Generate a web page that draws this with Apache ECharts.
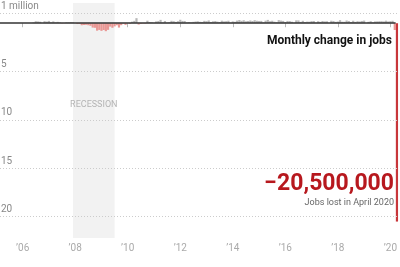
<!DOCTYPE html>
<html><head><meta charset="utf-8">
<script src="https://cdn.jsdelivr.net/npm/echarts@6/dist/echarts.min.js"></script>
<style>html,body{margin:0;padding:0;background:#fff}#c{width:400px;height:267px}</style>
</head><body><div id="c"></div>
<script>
// Monthly change in US payroll jobs, thousands (read/estimated from the chart)
const startYear = 2006, startMonth = 6; // first bar: June 2006
const jobs2006 = [77, 207, 184, 157, 2, 210, 171];
const jobs2007 = [238, 93, 190, 80, 143, 75, -34, -20, 88, 84, 114, 98];
const jobs2008 = [17, -84, -78, -210, -185, -165, -209, -266, -452, -473, -769, -695];
const jobs2009 = [-791, -703, -823, -686, -351, -470, -329, -212, -450, -202, -42, -171];
const jobs2010 = [-19, -66, 164, 243, 524, -137, -68, -36, -52, 262, 119, 87];
const jobs2011 = [43, 189, 225, 346, 77, 225, 69, 110, 248, 209, 141, 209];
const jobs2012 = [358, 237, 233, 78, 115, 76, 143, 177, 203, 146, 132, 244];
const jobs2013 = [211, 286, 130, 197, 226, 162, 122, 261, 190, 212, 258, 47];
const jobs2014 = [190, 151, 272, 329, 246, 304, 202, 230, 280, 227, 312, 255];
const jobs2015 = [234, 238, 86, 262, 344, 206, 254, 157, 100, 321, 272, 239];
const jobs2016 = [126, 237, 225, 153, 43, 297, 291, 135, 249, 124, 164, 155];
const jobs2017 = [216, 232, 50, 207, 139, 228, 188, 199, 16, 256, 223, 144];
const jobs2018 = [176, 316, 154, 149, 280, 231, 127, 253, 140, 208, 180, 233];
const jobs2019 = [269, 1, 147, 210, 85, 182, 194, 207, 208, 185, 261, 184];
const jobs2020 = [214, 251, -701, -20500];

const gridTicks = [1, -5, -10, -15, -20];
const gridTickLabels = ['1 million', '5', '10', '15', '20'];
const xTickYears = [2006, 2008, 2010, 2012, 2014, 2016, 2018, 2020];
const recession = [2007.917, 2009.5];
const titleText = 'Monthly change in jobs';
const bigNumber = '\u221220,500,000';
const bigNumberNote = 'Jobs lost in April 2020';

const allMonths = [].concat(jobs2006, jobs2007, jobs2008, jobs2009, jobs2010, jobs2011,
  jobs2012, jobs2013, jobs2014, jobs2015, jobs2016, jobs2017, jobs2018, jobs2019, jobs2020);
const barData = allMonths.map((v, i) => {
  const mIdx = (startMonth - 1) + i;
  const x = startYear + mIdx / 12;
  return [x, v / 1000];
});
const lastIdx = barData.length - 1;

const xMin = 2005.137, xMax = 2020.307;
const chart = echarts.init(document.getElementById('c'), null, {renderer: 'canvas'});
const FONT = 'Roboto, "Liberation Sans", sans-serif';

chart.setOption({
  animation: false,
  grid: {left: 0, right: 0, top: 0, bottom: 29},
  title: {
    text: titleText, right: 3, top: 30,
    textStyle: {fontFamily: FONT, fontWeight: 'bold', fontSize: 12, color: '#121212'}
  },
  xAxis: {
    type: 'value', min: xMin, max: xMax,
    axisLine: {show: false}, splitLine: {show: false},
    axisTick: {show: true, customValues: xTickYears, length: 4, lineStyle: {color: '#bbb'}, inside: false},
    axisLabel: {customValues: xTickYears, margin: 5, color: '#aaa', fontSize: 10, fontFamily: FONT,
      formatter: v => '\u2019' + String(Math.round(v)).slice(2)}
  },
  yAxis: {
    type: 'value', min: -22.2, max: 2.4, show: false, splitLine: {show: false}
  },
  graphic: [
    {type: 'text', right: 6, top: 173, style: {text: bigNumber, fill: '#b7181e',
      font: 'bold 23px ' + FONT, textAlign: 'right'}},
    {type: 'text', right: 6, top: 198, style: {text: bigNumberNote, fill: '#666',
      font: '9px ' + FONT, textAlign: 'right'}}
  ],
  series: [{
    type: 'bar',
    data: barData,
    barWidth: 2.2,
    silent: true,
    itemStyle: {
      color: p => p.dataIndex === lastIdx ? '#c8363a' : (p.value[1] < 0 ? '#e99895' : '#b8b8b8')
    },
    markArea: {
      silent: true,
      itemStyle: {color: '#f2f2f2'},
      label: {show: true, position: ['50%', 97], align: 'center', color: '#b4b4b4',
        fontSize: 9, fontFamily: FONT},
      data: [[{xAxis: recession[0], yAxis: 2.1, name: 'RECESSION'}, {xAxis: recession[1], yAxis: -22.2}]]
    },
    markLine: {
      silent: true, symbol: 'none',
      data: gridTicks.map((t, i) => ({
        yAxis: t,
        lineStyle: {color: '#ccc', type: [1, 2], width: 1},
        label: {show: true, formatter: gridTickLabels[i], position: 'insideStartTop',
          distance: [1, 2], color: '#888', fontSize: 10, fontFamily: FONT}
      })).concat([[
        {coord: [xMin, 0], lineStyle: {color: '#333', type: 'solid', width: 1.5}, label: {show: false}},
        {coord: [2020.2, 0]}
      ]])
    }
  }]
});
</script></body></html>
